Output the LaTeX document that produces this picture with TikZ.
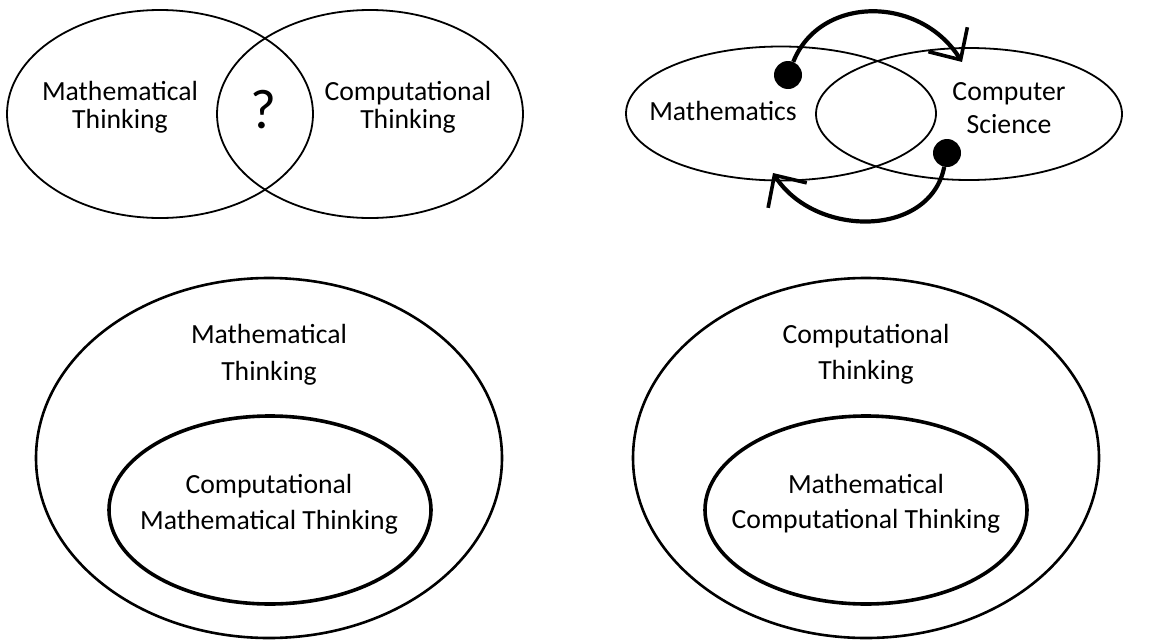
\documentclass[tikz,border=0pt]{standalone}
\usepackage{fontspec}
\setmainfont{Carlito}
\usetikzlibrary{arrows.meta,shapes.geometric}
\begin{document}
\begin{tikzpicture}[x=1pt,y=-1pt,
  oval/.style={draw=black,ellipse,inner sep=0pt,outer sep=0pt},
  thinoval/.style={oval,line width=1.8pt},
  outeroval/.style={oval,line width=2.6pt},
  inneroval/.style={oval,line width=3.6pt},
  lbl/.style={align=center,inner sep=0pt,font=\fontsize{27.7}{#1}\selectfont},
  lbl/.default=28,
  dot/.style={circle,fill=black,inner sep=0pt,minimum size=28pt},
  flow/.style={line width=4.2pt,-{Straight Barb[length=24pt,width=46pt,line width=3.6pt]}}
]
\useasboundingbox (0,0) rectangle (1154,640);
\fill[white] (0,0) rectangle (1154,640);

% top left Venn
\node[thinoval,minimum width=306pt,minimum height=208pt] (mt) at (160,114) {};
\node[thinoval,minimum width=306pt,minimum height=208pt] (ct) at (370,114) {};
\node[lbl] (mtl) at (120,107.5) {Mathematical\\Thinking};
\node[lbl] (ctl) at (408,107.5) {Computational\\Thinking};
\node[inner sep=0pt,anchor=base,font=\fontsize{56}{56}\selectfont] (q) at (263,128) {?};

% top right
\node[thinoval,minimum width=310pt,minimum height=134pt] (m) at (781,113.5) {};
\node[thinoval,minimum width=306pt,minimum height=132pt] (cs) at (969,114) {};
\node[inner sep=0pt,anchor=base,font=\fontsize{27.7}{28}\selectfont] (ml) at (723,120) {Mathematics};
\node[lbl=33.5] (csl) at (1009,108.3) {Computer\\Science};
\node[dot] (d1) at (788,75) {};
\node[dot] (d2) at (947,153) {};
\coordinate (t1) at (962,62);
\coordinate (t2) at (773,173);
\draw[flow] (d1) .. controls (820,-5) and (920,-5) .. (t1);
\draw[flow] (d2) .. controls (930,238) and (815,238) .. (t2);

% bottom left
\node[outeroval,minimum width=466pt,minimum height=360pt] (o1) at (269,458) {};
\node[inneroval,minimum width=322pt,minimum height=188pt] (i1) at (270,510) {};
\node[lbl=36.6] (o1l) at (269,354.5) {Mathematical\\Thinking};
\node[lbl=35.3] (i1l) at (269,504.2) {Computational\\Mathematical Thinking};

% bottom right
\node[outeroval,minimum width=466pt,minimum height=360pt] (o2) at (866,458) {};
\node[inneroval,minimum width=322pt,minimum height=188pt] (i2) at (866,510) {};
\node[lbl=35.7] (o2l) at (866,354.3) {Computational\\Thinking};
\node[lbl=35.3] (i2l) at (866,504) {Mathematical\\Computational Thinking};
\end{tikzpicture}
\end{document}
